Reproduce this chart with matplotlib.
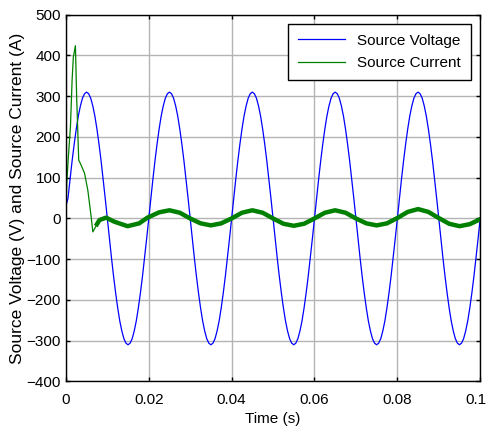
import matplotlib
matplotlib.use("Agg")
import matplotlib.pyplot as plt
from matplotlib.transforms import ScaledTranslation

# source voltage, read at 0.5 ms steps (one row = half a cycle)
t_voltage = [i * 0.0005 for i in range(201)]
v_source = [
    30, 49, 96, 141, 182, 219, 251, 276, 295, 306, 310, 306, 295, 276, 251, 219, 182, 141, 96, 49,
    0, -49, -96, -141, -182, -219, -251, -276, -295, -306, -310, -306, -295, -276, -251, -219, -182, -141, -96, -49,
    0, 49, 96, 141, 182, 219, 251, 276, 295, 306, 310, 306, 295, 276, 251, 219, 182, 141, 96, 49,
    0, -49, -96, -141, -182, -219, -251, -276, -295, -306, -310, -306, -295, -276, -251, -219, -182, -141, -96, -49,
    0, 49, 96, 141, 182, 219, 251, 276, 295, 306, 310, 306, 295, 276, 251, 219, 182, 141, 96, 49,
    0, -49, -96, -141, -182, -219, -251, -276, -295, -306, -310, -306, -295, -276, -251, -219, -182, -141, -96, -49,
    0, 49, 96, 141, 182, 219, 251, 276, 295, 306, 310, 306, 295, 276, 251, 219, 182, 141, 96, 49,
    0, -49, -96, -141, -182, -219, -251, -276, -295, -306, -310, -306, -295, -276, -251, -219, -182, -141, -96, -49,
    0, 49, 96, 141, 182, 219, 251, 276, 295, 306, 310, 306, 295, 276, 251, 219, 182, 141, 96, 49,
    0, -49, -96, -141, -182, -219, -251, -276, -295, -306, -310, -306, -295, -276, -251, -219, -182, -141, -96, -49,
    0]

# source current: start-up transient
t_transient = [0.0, 0.0002, 0.0006, 0.0011, 0.0015, 0.0018, 0.0023, 0.0026,
               0.0031, 0.0035, 0.0045, 0.0053, 0.0061, 0.0065, 0.0081,
               0.0097, 0.0117, 0.0149, 0.0177, 0.0197, 0.0225]
i_transient = [15, 86, 151, 225, 339, 396, 424, 298,
               143, 135, 111, 69, 4, -33, -4,
               2, -8, -19, -12, 2, 15]

# source current: steady state (ripple band)
t_steady = [0.0075, 0.0081, 0.0097, 0.0117, 0.0149, 0.0177, 0.0197, 0.0225,
            0.025, 0.0275, 0.03, 0.0325, 0.035, 0.0375, 0.04, 0.0425,
            0.045, 0.0475, 0.05, 0.0525, 0.055, 0.0575, 0.06, 0.0625,
            0.065, 0.0675, 0.07, 0.0725, 0.075, 0.0775, 0.08, 0.0825,
            0.085, 0.0875, 0.09, 0.0925, 0.095, 0.0975, 0.1]
i_steady = [-14, -4, 2, -8, -19, -12, 2, 15,
            20, 14, 0, -12, -17, -12, 0, 14,
            20, 14, 0, -13, -18, -13, 0, 14,
            20, 14, 0, -12, -17, -12, 1, 16,
            23, 16, 1, -13, -19, -14, -2]

plt.rcParams['font.family'] = ['Liberation Sans', 'DejaVu Sans']

fig = plt.figure(figsize=(4.88, 4.32), dpi=100)
ax = fig.add_axes([0.135, 0.117, 0.849, 0.849])

ax.plot(t_voltage, v_source, color='#0000ff', lw=0.9, label='Source Voltage')
ax.plot(t_transient, i_transient, color='#008000', lw=0.9, label='Source Current')
ax.plot(t_steady, i_steady, color='#008000', lw=3.2, solid_joinstyle='round')

ax.set_xlim(0, 0.1)
ax.set_ylim(-400, 500)
ax.set_xticks([0, 0.02, 0.04, 0.06, 0.08, 0.1])
ax.set_xticklabels(['0', '0.02', '0.04', '0.06', '0.08', '0.1'])
ax.set_yticks(range(-400, 501, 100))
ax.grid(True, color='#b4b4b4', lw=1, ls='-')
ax.set_axisbelow(True)
ax.tick_params(direction='in', top=True, right=True, labelsize=11, length=3, width=1)
ax.tick_params(axis='x', pad=8)
for s in ax.spines.values():
    s.set_linewidth(1)
    s.set_color('black')

# nudge the last x tick label inside the figure, as in the original
last = ax.get_xticklabels()[-1]
last.set_transform(last.get_transform() + ScaledTranslation(-4 / 100, 0, fig.dpi_scale_trans))

ax.set_xlabel('Time (s)', fontsize=11, labelpad=4)
ax.set_ylabel('Source Voltage (V) and Source Current (A)', fontsize=12.5, labelpad=1)

leg = ax.legend(loc='upper right', fontsize=11, fancybox=False, framealpha=1,
                edgecolor='black', handlelength=3.1, borderaxespad=0.6,
                borderpad=0.65, labelspacing=0.55)
leg.get_frame().set_linewidth(1)

fig.savefig('out.png', dpi=100)
